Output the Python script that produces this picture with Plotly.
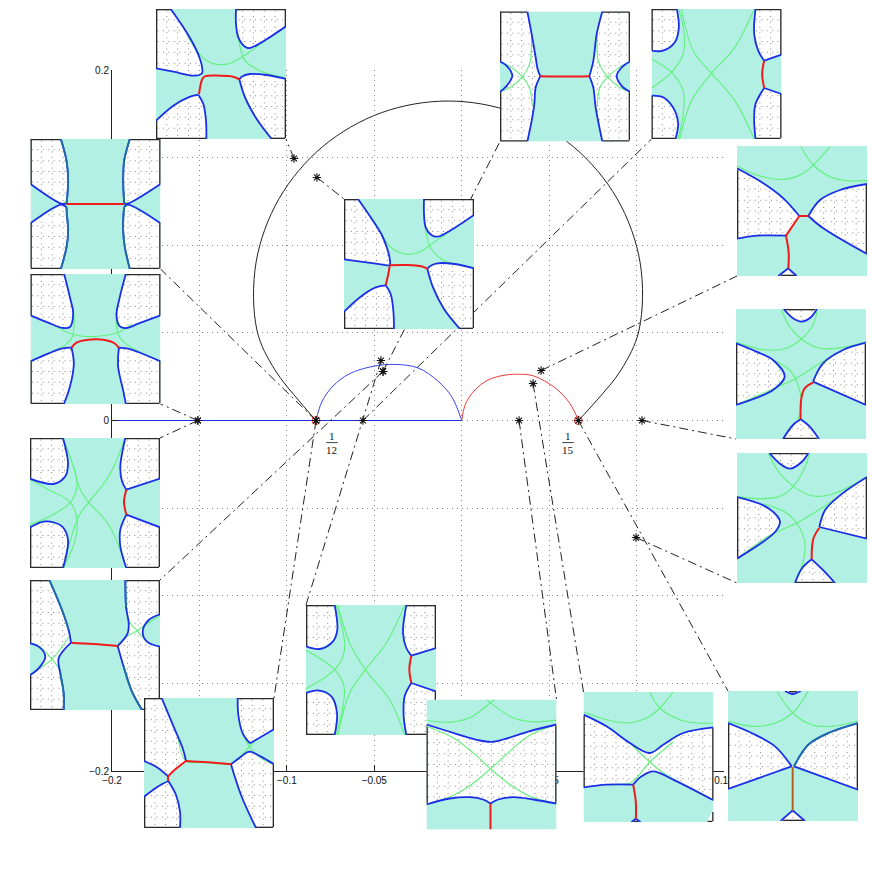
import numpy as np
import plotly.graph_objects as go

# ---------- main chart data ----------
x_ticks = [-0.2, -0.15, -0.1, -0.05, 0, 0.05, 0.1, 0.15]
x_tick_text = ["\u22120.2", "\u22120.15", "\u22120.1", "\u22120.05", "0", "0.05", "0.1", "0.15"]
y_ticks = [-0.2, -0.15, -0.1, -0.05, 0, 0.05, 0.1, 0.15, 0.2]
y_tick_text = ["\u22120.2", "\u22120.15", "\u22120.1", "\u22120.05", "0", "0.05", "0.1", "0.15", "0.2"]

outer_x = [-0.0833, -0.0925, -0.1068, -0.1171, -0.1176, -0.1044, -0.0795, -0.046, -0.0078,
           0.0303, 0.0638, 0.0888, 0.102, 0.1014, 0.0911, 0.0774, 0.0667]
outer_y = [0, 0.0106, 0.0288, 0.0515, 0.0903, 0.1267, 0.1563, 0.1756, 0.1823,
           0.1756, 0.1563, 0.1267, 0.0903, 0.0515, 0.0288, 0.0117, 0]
blue_arc_x = [-0.0833, -0.08, -0.0736, -0.0645, -0.0513, -0.0382, -0.025, -0.0136, -0.0056, 0]
blue_arc_y = [0, 0.0106, 0.0197, 0.0265, 0.0308, 0.032, 0.03, 0.0225, 0.0134, 0]
red_arc_x = [0, 0.0019, 0.007, 0.015, 0.0236, 0.0316, 0.0402, 0.0494, 0.0574, 0.0631, 0.0668]
red_arc_y = [0, 0.0088, 0.0168, 0.0231, 0.0257, 0.0264, 0.0257, 0.0214, 0.0151, 0.0077, 0]
blue_base_x = [-0.2, 0]
blue_base_y = [0, 0]
ring_x = [-0.0833, 0.0667]
ring_y = [0, 0]
# parameter point belonging to each of the 16 panels
star_x = [-0.0959, -0.045, -0.0565, -0.0833, -0.1509, -0.0828, 0.0454, 0.1031,
          0.0997, -0.1509, -0.045, -0.0462, -0.0833, 0.0328, 0.0408, 0.0667]
star_y = [0.1495, 0.028, 0, 0, 0, 0.1387, 0.0285, 0,
          -0.0668, 0, 0.028, 0.0342, 0, 0, 0.0211, 0]

# ---------- panel data (panel units 0..390, y downwards) ----------
# a region is a list of pieces; one-point pieces are box corners without a blue edge
i01_regions = [
    [[(44,0),(82,55),(112,105),(132,150),(139,180),(138,193),(130,198),(112,200),(52,188),(0,178)], [(0,0)]],
    [[(240,0),(240,45),(247,85),(267,113),(282,117),(312,103),(390,52)], [(390,0)]],
    [[(0,335),(52,290),(97,265),(127,257)], [(127,257),(142,285),(150,335),(151,390)], [(0,390)]],
    [[(390,210),(332,198),(282,195),(257,203),(250,211)], [(250,211),(267,265),(302,330),(347,390)], [(390,390)]],
]
i01_green = [[(92,75),(122,125),(152,155),(187,167),(222,163),(272,135),(332,90)],
             [(245,70),(250,105),(267,155),(312,185),(390,207)]]
i01_red = [[(129,255),(139,210),(147,202),(192,200),(232,203),(250,211)]]

i02_regions = [
    [[(82,0),(95,68),(107,138),(113,173),(121,194)], [(121,194),(107,228),(103,278),(95,328),(82,390)], [(0,390)],
     [(0,241),(20,223),(37,193),(20,163),(0,150)], [(0,0)]],
    [[(307,0),(290,68),(280,148),(268,194)], [(268,194),(280,228),(287,288),(307,390)], [(390,390)],
     [(390,241),(365,223),(350,193),(365,168),(390,150)], [(390,0)]],
]
i02_green = [[(95,68),(93,130),(88,160),(67,196),(30,228),(0,241)], [(0,150),(35,168),(67,196),(88,228),(97,280)],
             [(292,68),(295,148),(323,196),(360,228),(390,241)], [(390,150),(355,170),(323,196),(300,228),(292,280)]]
i02_red = [[(121,194),(195,195),(268,194)]]

i03_regions = [
    [[(76,0),(82,55),(70,100),(35,125),(0,125)], [(0,0)]],
    [[(0,260),(35,265),(70,305),(80,345),(72,390)], [(0,390)]],
    [[(312,0),(308,75),(320,125),(338,155)], [(338,155),(390,137)], [(390,0)]],
    [[(390,255),(338,237)], [(338,237),(312,285),(308,335),(312,390)], [(390,390)]],
]
i03_green = [[(82,0),(98,75),(95,135),(60,190),(0,237)], [(0,150),(60,190),(95,245),(95,315),(80,390)],
             [(90,0),(125,125),(180,193),(250,275),(308,390)], [(308,0),(250,115),(180,193),(120,275),(85,390)]]
i03_red = [[(338,155),(332,195),(338,237)]]

i04_regions = [
    [[(91,0),(108,65),(113,125),(110,175),(108,193)], [(108,193),(93,194),(0,135)], [(0,0)]],
    [[(0,253),(93,197),(108,205)], [(108,205),(109,225),(113,275),(108,325),(91,390)], [(0,390)]],
    [[(298,0),(281,65),(278,125),(281,193)], [(281,193),(291,194),(390,135)], [(390,0)]],
    [[(390,253),(291,197),(281,205)], [(281,205),(279,225),(278,275),(283,325),(298,390)], [(390,390)]],
]
i04_green = [[(98,190),(108,197),(98,203)], [(290,190),(281,197),(290,203)]]
i04_red = [[(108,195),(195,195),(281,195)]]
i04_teal = [[(91,0),(108,65),(113,125),(110,175),(108,193)], [(108,205),(109,225),(113,275),(108,325),(91,390)],
            [(298,0),(281,65),(278,125),(281,193)], [(281,205),(279,225),(278,275),(283,325),(298,390)]]

i05_regions = [
    [[(101,0),(118,69),(128,119),(118,159),(98,162),(53,146),(0,124)], [(0,0)]],
    [[(286,0),(268,69),(258,124),(268,157),(288,162),(323,149),(390,124)], [(390,0)]],
    [[(0,262),(53,239),(93,224),(123,221)], [(123,221),(130,269),(118,339),(100,390)], [(0,390)]],
    [[(390,262),(323,234),(293,224),(265,221)], [(265,221),(263,279),(278,349),(286,390)], [(390,390)]],
]
i05_green = [[(75,156),(110,175),(150,186),(210,186),(263,175),(305,150)],
             [(128,100),(131,150),(125,190),(105,212),(60,235),(0,262)],
             [(258,100),(258,150),(265,185),(293,214),(390,262)]]
i05_red = [[(123,221),(138,206),(168,198),(223,198),(251,207),(265,221)]]

i06_regions = [
    [[(42,0),(80,55),(112,105),(130,150),(138,185),(138,200)], [(138,200),(90,193),(0,181)], [(0,0)]],
    [[(240,0),(240,45),(245,85),(262,108),(280,113),(310,100),(390,48)], [(390,0)]],
    [[(0,338),(50,293),(95,265),(125,259)], [(125,259),(140,285),(148,335),(150,390)], [(0,390)]],
    [[(390,208),(332,195),(280,193),(260,200),(250,209)], [(250,209),(267,265),(300,330),(348,390)], [(390,390)]],
]
i06_green = [[(80,55),(110,100),(135,140),(165,160),(190,166),(225,160),(270,130),(335,85)],
             [(243,70),(248,110),(262,150),(300,185),(390,205)]]
i06_red = [[(125,259),(133,225),(137,202)], [(137,199),(190,198),(232,202),(250,209)]]

i07_regions = [
    [[(0,67),(79,112),(139,157),(187,210)], [(147,269),(59,269),(0,278)]],
    [[(390,114),(309,132),(249,162),(214,210)], [(214,210),(259,247),(390,324)]],
    [[(124,390),(154,367)], [(154,367),(179,390)]],
]
i07_green = [[(0,59),(59,87),(139,100),(199,82),(279,2)], [(192,2),(229,57),(279,92),(329,104),(390,104)]]
i07_red = [[(187,210),(214,210)], [(187,210),(147,269)], [(147,269),(155,320),(154,367)]]

i08_regions = [
    [[(143,0),(171,28),(196,38),(221,28),(243,0)]],
    [[(0,103),(61,128),(111,153),(146,203),(111,243),(0,288)]],
    [[(390,101),(321,123),(261,163),(231,218)], [(231,218),(390,288)]],
    [[(141,390),(171,348),(194,331)], [(194,331),(221,353),(249,390)]],
]
i08_green = [[(0,100),(91,123),(151,118),(196,90),(231,48),(243,8)],
             [(136,3),(161,53),(196,90),(251,118),(321,115),(390,98)],
             [(0,288),(81,253),(181,208),(251,163),(321,123)],
             [(111,153),(161,183),(186,228),(196,283),(186,333)]]
i08_red = [[(231,221),(206,238),(196,268),(194,331)]]

i09_regions = [
    [[(97,0),(129,32),(159,47),(194,27),(214,0)]],
    [[(0,132),(79,157),(119,187),(129,207),(114,237),(0,317)]],
    [[(390,72),(309,127),(264,172),(247,222)], [(247,222),(390,257)]],
    [[(174,390),(194,347),(224,319)], [(224,319),(259,352),(294,390)]],
]
i09_green = [[(0,130),(69,137),(129,130),(169,100),(204,42),(217,2)],
             [(94,2),(129,62),(169,100),(229,129),(289,122),(390,72)],
             [(0,317),(99,247),(179,210),(259,162),(309,127)],
             [(79,152),(144,177),(179,210),(204,272),(194,342),(174,388)]]
i09_red = [[(247,225),(229,257),(224,319)]]

i10_regions = [
    [[(99,0),(114,75),(106,115),(71,138),(0,122)], [(0,0)]],
    [[(0,268),(46,250),(96,265),(114,305),(99,390)], [(0,390)]],
    [[(286,0),(271,85),(276,130),(289,155)], [(289,155),(390,122)], [(390,0)]],
    [[(390,268),(289,230)], [(289,230),(271,275),(271,325),(289,390)], [(390,390)]],
]
i10_green = [[(99,0),(136,105),(141,145),(121,193),(60,235),(0,260)],
             [(0,125),(56,155),(121,193),(141,245),(136,305),(101,390)],
             [(131,85),(151,155),(176,193),(236,260),(289,390)],
             [(286,0),(236,115),(176,193),(146,235),(116,325),(101,390)]]
i10_red = [[(289,155),(282,192),(289,230)]]

i11_regions = [
    [[(58,0),(96,90),(116,150),(123,188)], [(123,188),(86,235),(91,280),(101,340),(101,390)], [(0,390)],
     [(0,285),(26,265),(46,230),(26,200),(0,190)], [(0,0)]],
    [[(286,0),(288,80),(296,130),(293,160),(263,198)], [(263,198),(281,260),(306,335),(336,390)], [(390,390)],
     [(390,200),(351,185),(338,155),(356,120),(390,103)], [(390,0)]],
]
i11_green = [[(0,285),(36,260),(66,238),(96,200),(116,170)], [(6,190),(36,205),(66,238),(86,265),(94,310)],
             [(264,195),(291,170),(321,152),(390,105)], [(286,80),(301,130),(321,152),(351,185),(390,200)]]
i11_red = [[(123,188),(190,192),(263,198)]]
i11_teal = [[(58,0),(96,90),(116,150)], [(91,280),(101,340),(101,390)],
            [(286,0),(288,80)], [(281,260),(306,335),(336,390)]]

i12_regions = [
    [[(86,0),(94,74),(81,109),(41,132),(0,124)], [(0,0)]],
    [[(0,264),(36,256),(76,274),(93,324),(86,390)], [(0,390)]],
    [[(301,0),(291,84),(301,129),(316,152)], [(316,152),(390,129)], [(390,0)]],
    [[(390,259),(316,234)], [(316,234),(296,274),(293,334),(301,390)], [(390,390)]],
]
i12_green = [[(91,0),(116,114),(111,154),(86,194),(0,252)], [(0,136),(86,194),(114,244),(111,304),(91,390)],
             [(96,0),(131,114),(178,194),(251,284),(296,390)], [(296,0),(241,114),(178,194),(131,264),(96,390)]]
i12_red = [[(316,152),(310,193),(316,234)]]

i13_regions = [
    [[(53,0),(91,91),(116,151),(126,189)], [(73,236),(41,209),(0,189)], [(0,0)]],
    [[(0,296),(41,266),(73,249)], [(73,249),(96,291),(108,341),(108,390)], [(0,390)]],
    [[(281,0),(283,51),(296,106),(318,136)], [(318,136),(390,94)], [(390,0)]],
    [[(390,199),(351,176),(316,161),(291,176),(261,199)], [(261,199),(291,291),(336,390)], [(390,390)]],
]
i13_green = [[(101,111),(126,189),(181,193),(261,196),(316,146),(341,121)],
             [(296,106),(316,146),(351,181),(390,199)]]
i13_red = [[(126,189),(73,236),(73,249)], [(126,189),(190,193),(261,199)]]

i14_regions = [
    [[(0,75),(80,100),(160,123),(195,127),(230,120),(310,95),(390,75)],
     [(390,312),(320,300),(260,293),(215,300),(192,312)], [(192,312),(170,300),(130,293),(70,297),(0,315)]],
]
i14_green = [[(0,62),(70,68),(130,55),(192,10),(205,0)], [(180,0),(192,10),(260,55),(320,67),(390,62)],
             [(0,80),(80,115),(140,160),(192,208),(250,255),(310,290),(390,312)],
             [(390,75),(305,110),(245,160),(192,208),(135,255),(75,290),(0,315)]]
i14_red = [[(192,312),(192,390)]]

i15_regions = [
    [[(0,68),(69,103),(139,153),(199,183),(239,158),(299,123),(390,106)],
     [(390,325),(269,263),(209,238),(174,253),(149,278)], [(149,278),(69,278),(0,286)]],
    [[(144,390),(157,380)], [(157,380),(171,390)]],
    [[(369,390)], [(390,352)], [(390,390)]],
]
i15_green = [[(0,60),(69,83),(129,93),(189,78),(229,48),(269,0)], [(199,0),(229,48),(289,83),(339,93),(390,93)],
             [(139,153),(199,210),(240,243),(309,283),(390,325)], [(269,150),(199,210),(159,258),(139,273),(69,278)]]
i15_red = [[(149,278),(157,330),(157,380)]]

i16_regions = [
    [[(171,0),(194,9),(218,0)]],
    [[(0,96),(71,126),(141,166),(191,226)], [(191,226),(0,294)]],
    [[(390,96),(301,126),(241,161),(198,226)], [(198,226),(390,296)]],
    [[(158,390),(194,358)], [(194,358),(231,390)]],
]
i16_green = [[(0,91),(81,106),(141,96),(194,66),(241,0)], [(146,0),(194,66),(251,101),(311,106),(390,89)]]
i16_red = [[(194,228),(194,358)]]
i16_teal = [[(390,96),(301,126),(241,161),(198,226)]]

# ---------- layout constants (page pixels) ----------
W = H = 872
AX_L, AX_R, AX_T, AX_B = 112, 724, 70, 771
SX = (AX_R - AX_L) / 0.35
SY = (AX_B - AX_T) / 0.4
TURQ, WHITE = "#B2F0E4", "#FFFFFF"
GREEN, BLUE, RED, TEAL = "#62F07C", "#1A2FE6", "#F01A1A", "#1F6EA8"
SIZE = 130

panel_left = [156, 500, 651.5, 30.5, 30.5, 344, 737, 736, 737, 30, 30, 306, 144, 426.5, 583.5, 728]
panel_top = [9, 11.5, 9, 139, 274, 199, 146, 309, 453, 438, 580, 605, 698, 699.5, 692, 691]
panel_anchor = ["br", "bl", "bl", "br", "br", "tl", "bl", "bl", "bl", "tr", "tr", "tl", "tr", "tr", "tl", "tl"]
panels = [
    (i01_regions, i01_green, i01_red, [], RED),
    (i02_regions, i02_green, i02_red, [], RED),
    (i03_regions, i03_green, i03_red, [], RED),
    (i04_regions, i04_green, i04_red, i04_teal, RED),
    (i05_regions, i05_green, i05_red, [], RED),
    (i06_regions, i06_green, i06_red, [], RED),
    (i07_regions, i07_green, i07_red, [], RED),
    (i08_regions, i08_green, i08_red, [], RED),
    (i09_regions, i09_green, i09_red, [], RED),
    (i10_regions, i10_green, i10_red, [], RED),
    (i11_regions, i11_green, i11_red, i11_teal, RED),
    (i12_regions, i12_green, i12_red, [], RED),
    (i13_regions, i13_green, i13_red, [], RED),
    (i14_regions, i14_green, i14_red, [], RED),
    (i15_regions, i15_green, i15_red, [], RED),
    (i16_regions, i16_green, i16_red, i16_teal, "#B5601C"),
]


def px_to_x(p):
    return -0.2 + (p - AX_L) / SX


def px_to_y(p):
    return 0.2 - (p - AX_T) / SY


def joined(curves):
    xs, ys = [], []
    for c in curves:
        xs += [p[0] for p in c] + [None]
        ys += [p[1] for p in c] + [None]
    return xs, ys


def inside(x, y, poly):
    hit = False
    n = len(poly)
    for i in range(n):
        x1, y1 = poly[i]
        x2, y2 = poly[(i + 1) % n]
        if (y1 > y) != (y2 > y) and x < x1 + (y - y1) * (x2 - x1) / (y2 - y1):
            hit = not hit
    return hit


fig = go.Figure()

# main curves
fig.add_trace(go.Scatter(x=blue_base_x, y=blue_base_y, mode="lines", line=dict(color="#1A2FE6", width=1.2)))
fig.add_trace(go.Scatter(x=outer_x, y=outer_y, mode="lines", line=dict(color="#222222", width=1, shape="spline")))
fig.add_trace(go.Scatter(x=blue_arc_x, y=blue_arc_y, mode="lines", line=dict(color="#3A46F0", width=1, shape="spline")))
fig.add_trace(go.Scatter(x=red_arc_x, y=red_arc_y, mode="lines", line=dict(color="#F03A3A", width=1, shape="spline")))

# full-page overlay on the same scale, for the leader lines that leave the axes
for i in range(16):
    l, t = panel_left[i], panel_top[i]
    a = panel_anchor[i]
    end_x = px_to_x(l + (SIZE if a[1] == "r" else 0))
    end_y = px_to_y(t + (SIZE if a[0] == "b" else 0))
    fig.add_trace(go.Scatter(x=[star_x[i], end_x], y=[star_y[i], end_y], xaxis="x2", yaxis="y2", mode="lines",
                             line=dict(color="#222222", width=1, dash="9px,4px,2px,4px")))
fig.add_trace(go.Scatter(x=ring_x, y=ring_y, xaxis="x2", yaxis="y2", mode="markers",
                         marker=dict(symbol="circle-open", size=8, color="#F03A3A", line=dict(width=1, color="#F03A3A"))))
fig.add_trace(go.Scatter(x=star_x, y=star_y, xaxis="x2", yaxis="y2", mode="markers",
                         marker=dict(symbol="asterisk-open", size=7, color="#111111", line=dict(width=1.1, color="#111111"))))

layout_axes = {
    "xaxis": dict(domain=[AX_L / W, AX_R / W], range=[-0.2, 0.15], tickvals=x_ticks, ticktext=x_tick_text,
                  ticks="inside", ticklen=6, tickcolor="#222222", showline=True, linecolor="#222222", linewidth=1,
                  showgrid=True, gridcolor="#8A8A8A", griddash="1px,4px", gridwidth=1, zeroline=False,
                  automargin=False, anchor="y", tickfont=dict(family="Liberation Sans", size=10, color="#111111")),
    "yaxis": dict(domain=[1 - AX_B / H, 1 - AX_T / H], range=[-0.2, 0.2], tickvals=y_ticks, ticktext=y_tick_text,
                  ticks="inside", ticklen=6, tickcolor="#222222", showline=True, linecolor="#222222", linewidth=1,
                  showgrid=True, gridcolor="#8A8A8A", griddash="1px,4px", gridwidth=1, zeroline=False,
                  automargin=False, anchor="x", tickfont=dict(family="Liberation Sans", size=10, color="#111111")),
    "xaxis2": dict(domain=[0, 1], range=[px_to_x(0), px_to_x(W)], visible=False, anchor="y2", automargin=False),
    "yaxis2": dict(domain=[0, 1], range=[px_to_y(H), px_to_y(0)], visible=False, anchor="x2", automargin=False),
}

# panels
grid_lines = np.arange(1, 12) * 32.5
dot_steps = np.arange(6, 390, 16.25)
for i, (regions, green, red, teal, red_color) in enumerate(panels):
    n = i + 3
    xa, ya = f"x{n}", f"y{n}"
    l, t = panel_left[i], panel_top[i]
    layout_axes[f"xaxis{n}"] = dict(domain=[l / W, (l + SIZE) / W], range=[0, 390], visible=False, anchor=ya,
                                    automargin=False)
    layout_axes[f"yaxis{n}"] = dict(domain=[1 - (t + SIZE) / H, 1 - t / H], range=[390, 0], visible=False, anchor=xa,
                                    automargin=False)

    polys = [[p for piece in region for p in piece] for region in regions]
    blue = [piece for region in regions for piece in region if len(piece) > 1]

    fig.add_trace(go.Scatter(x=[0, 390, 390, 0, 0], y=[0, 0, 390, 390, 0], xaxis=xa, yaxis=ya, mode="none",
                             fill="toself", fillcolor=TURQ))
    fx, fy = joined(polys)
    fig.add_trace(go.Scatter(x=fx, y=fy, xaxis=xa, yaxis=ya, mode="none", fill="toself", fillcolor=WHITE))

    # dotted grid, visible only in the white regions
    dx, dy = [], []
    for g in grid_lines:
        for s in dot_steps:
            if any(inside(s, g, p) for p in polys):
                dx.append(s)
                dy.append(g)
            if any(inside(g, s, p) for p in polys):
                dx.append(g)
                dy.append(s)
    fig.add_trace(go.Scatter(x=dx, y=dy, xaxis=xa, yaxis=ya, mode="markers",
                             marker=dict(symbol="square", size=1, color="#8A8A8A", line=dict(width=0))))

    # dark frame where the white regions meet the box
    bx, by = [], []
    steps = np.arange(0, 391, 3)
    for edge in ("t", "b", "l", "r"):
        prev = False
        for s in steps:
            ex, ey, tx, ty = {
                "t": (s, 1, s, 4), "b": (s, 389, s, 386),
                "l": (1, s, 4, s), "r": (389, s, 386, s),
            }[edge]
            on = any(inside(tx, ty, p) for p in polys)
            if on:
                bx.append(float(ex))
                by.append(float(ey))
            elif prev:
                bx.append(None)
                by.append(None)
            prev = on
        bx.append(None)
        by.append(None)
    fig.add_trace(go.Scatter(x=bx, y=by, xaxis=xa, yaxis=ya, mode="lines", line=dict(color="#2A2A2A", width=2)))

    gx, gy = joined(green)
    fig.add_trace(go.Scatter(x=gx, y=gy, xaxis=xa, yaxis=ya, mode="lines",
                             line=dict(color=GREEN, width=1.1, shape="spline")))
    bx, by = joined(blue)
    fig.add_trace(go.Scatter(x=bx, y=by, xaxis=xa, yaxis=ya, mode="lines",
                             line=dict(color=BLUE, width=1.8, shape="spline")))
    if teal:
        tx, ty = joined(teal)
        fig.add_trace(go.Scatter(x=tx, y=ty, xaxis=xa, yaxis=ya, mode="lines",
                                 line=dict(color=TEAL, width=1.8, shape="spline")))
    rx, ry = joined(red)
    fig.add_trace(go.Scatter(x=rx, y=ry, xaxis=xa, yaxis=ya, mode="lines",
                             line=dict(color=red_color, width=2, shape="spline")))

# the two fraction labels
annotations = []
shapes = []
for cx, top_text, bottom_text in [(-0.0742, "1", "12"), (0.0608, "1", "15")]:
    annotations.append(dict(x=cx, y=-0.0086, xref="x", yref="y", text=top_text, showarrow=False,
                            font=dict(family="Liberation Serif", size=11, color="#111111")))
    annotations.append(dict(x=cx, y=-0.0171, xref="x", yref="y", text=bottom_text, showarrow=False,
                            font=dict(family="Liberation Serif", size=11, color="#111111")))
    shapes.append(dict(type="line", xref="x", yref="y", x0=cx - 0.0033, x1=cx + 0.0033, y0=-0.0126, y1=-0.0126,
                       line=dict(color="#111111", width=0.8)))

fig.update_layout(width=W, height=H, margin=dict(l=0, r=0, t=0, b=0), showlegend=False,
                  paper_bgcolor="white", plot_bgcolor="rgba(0,0,0,0)", hovermode=False,
                  annotations=annotations, shapes=shapes, **layout_axes)
fig.write_html("out.html", config={"displayModeBar": False}, post_script="document.body.style.margin='0';")
